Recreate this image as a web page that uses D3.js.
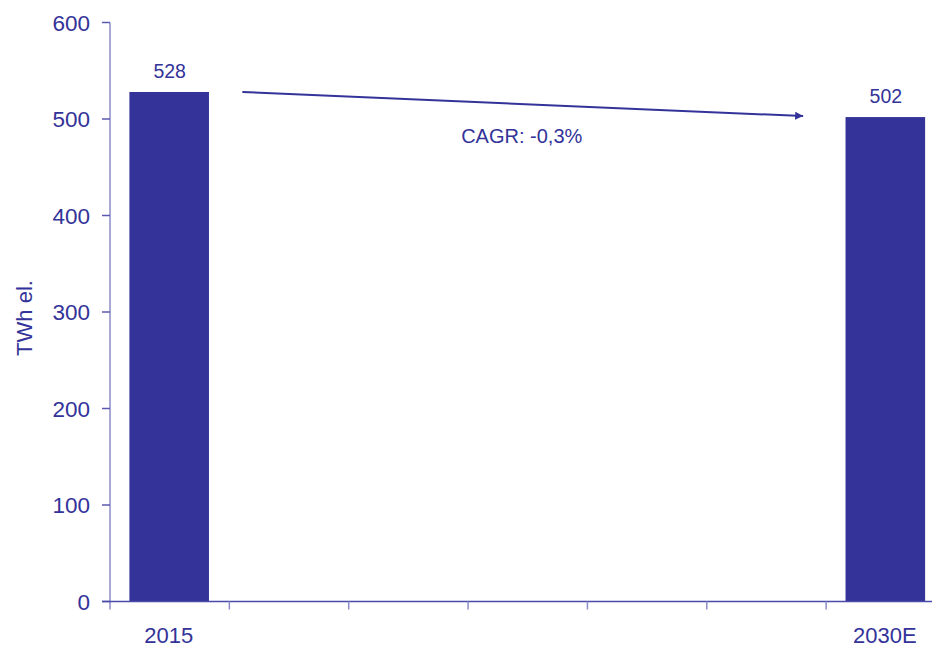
<!DOCTYPE html>
<html>
<head>
<meta charset="utf-8">
<script src="https://cdn.jsdelivr.net/npm/d3@7"></script>
<style>
  html, body { margin: 0; padding: 0; background: #fff; }
  svg { display: block; }
  text { font-family: "Liberation Sans", Arial, sans-serif; fill: #333399; }
</style>
</head>
<body>
<svg id="chart" width="932" height="648"></svg>
<script>
// Electricity demand, TWh el.
const categories = ["2015", "c2", "c3", "c4", "c5", "c6", "2030E"];
const categoryLabels = ["2015", "", "", "", "", "", "2030E"];
const values = [528, null, null, null, null, null, 502];
const yTicks = [0, 100, 200, 300, 400, 500, 600];
const cagrLabel = "CAGR: -0,3%";
const yTitle = "TWh el.";

const color = "#333399";
const axisLight = "#8c8cc8";

const svg = d3.select("#chart");
const plot = { left: 110, right: 945.5, top: 22.5, bottom: 601.5 };

const x = d3.scaleBand()
  .domain(categories)
  .range([plot.left, plot.right])
  .paddingInner(1 / 3)
  .paddingOuter(1 / 6);
const step = x.step();
const boundary = i => plot.left + i * step;

const y = d3.scaleLinear().domain([0, 600]).range([plot.bottom, plot.top]);

// Bars
const data = categories.map((c, i) => ({ c, v: values[i], label: categoryLabels[i] }));
const withValue = data.filter(d => d.v != null);

svg.append("g").selectAll("rect")
  .data(withValue)
  .join("rect")
  .attr("x", d => x(d.c) - 0.5)
  .attr("y", d => y(d.v))
  .attr("width", x.bandwidth())
  .attr("height", d => y(0) - y(d.v))
  .attr("fill", color);

// Value labels
svg.append("g").selectAll("text")
  .data(withValue)
  .join("text")
  .attr("x", d => x(d.c) + x.bandwidth() / 2)
  .attr("y", d => y(d.v) - 14)
  .attr("text-anchor", "middle")
  .attr("font-size", 19.5)
  .text(d => d.v);

// Y axis
const yAxis = svg.append("g");
yAxis.append("line")
  .attr("x1", plot.left).attr("x2", plot.left)
  .attr("y1", plot.top).attr("y2", plot.bottom + 8)
  .attr("stroke", axisLight).attr("stroke-width", 1.5);
yAxis.selectAll("line.tick")
  .data(yTicks)
  .join("line")
  .attr("class", "tick")
  .attr("x1", plot.left - 8).attr("x2", plot.left)
  .attr("y1", d => y(d)).attr("y2", d => y(d))
  .attr("stroke", "#5a5ab0").attr("stroke-width", 1.5);
yAxis.selectAll("text")
  .data(yTicks)
  .join("text")
  .attr("x", plot.left - 20)
  .attr("y", d => y(d) + 8)
  .attr("text-anchor", "end")
  .attr("font-size", 22.5)
  .text(d => d);

// X axis
const xAxis = svg.append("g");
xAxis.append("line")
  .attr("x1", plot.left - 8).attr("x2", plot.right)
  .attr("y1", plot.bottom).attr("y2", plot.bottom)
  .attr("stroke", "#4a4aa8").attr("stroke-width", 1.5);
xAxis.selectAll("line.tick")
  .data(d3.range(1, categories.length + 1))
  .join("line")
  .attr("class", "tick")
  .attr("x1", i => boundary(i)).attr("x2", i => boundary(i))
  .attr("y1", plot.bottom).attr("y2", plot.bottom + 8)
  .attr("stroke", axisLight).attr("stroke-width", 1.5);
xAxis.selectAll("text")
  .data(data)
  .join("text")
  .attr("x", d => x(d.c) + x.bandwidth() / 2 - 1)
  .attr("y", 643)
  .attr("text-anchor", "middle")
  .attr("font-size", 22)
  .text(d => d.label);

// Y title
svg.append("text")
  .attr("transform", "translate(32,318) rotate(-90)")
  .attr("text-anchor", "middle")
  .attr("font-size", 22)
  .text(yTitle);

// CAGR arrow
svg.append("defs").append("marker")
  .attr("id", "arrowhead")
  .attr("viewBox", "0 0 10 10")
  .attr("refX", 10).attr("refY", 5)
  .attr("markerUnits", "userSpaceOnUse")
  .attr("markerWidth", 9).attr("markerHeight", 8)
  .attr("orient", "auto")
  .append("path")
  .attr("d", "M0,0 L10,5 L0,10 Z")
  .attr("fill", color);

const a0 = { x: boundary(1) + 13, y: y(values[0]) };
const a1 = { x: boundary(6) - 23, y: y(values[6]) - 1 };
svg.append("line")
  .attr("x1", a0.x).attr("y1", a0.y)
  .attr("x2", a1.x).attr("y2", a1.y)
  .attr("stroke", color).attr("stroke-width", 2)
  .attr("marker-end", "url(#arrowhead)");

svg.append("text")
  .attr("x", (a0.x + a1.x) / 2 - 1)
  .attr("y", (a0.y + a1.y) / 2 + 39)
  .attr("text-anchor", "middle")
  .attr("font-size", 20)
  .text(cagrLabel);
</script>
</body>
</html>
